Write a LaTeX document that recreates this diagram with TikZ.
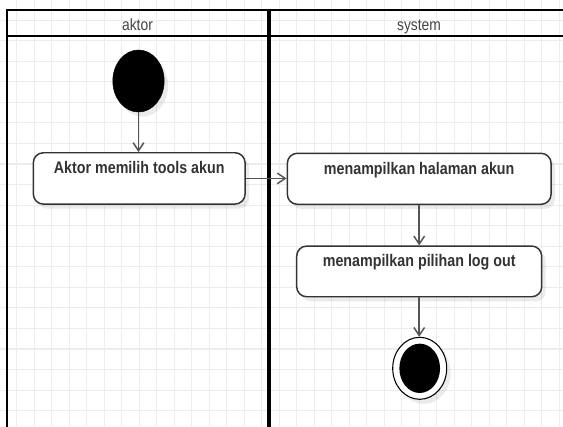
\documentclass[tikz,border=0pt]{standalone}
\usepackage{fontspec}
\setmainfont[FakeStretch=0.85]{Liberation Sans}
\usetikzlibrary{shapes.geometric,arrows.meta,shadows,calc}
\definecolor{gridc}{HTML}{EDEDED}
\definecolor{edgec}{HTML}{333333}
\definecolor{flowc}{HTML}{555555}
\definecolor{headc}{HTML}{444444}
\tikzset{
  shade/.style={drop shadow={shadow xshift=3pt,shadow yshift=-3.5pt,fill=black,opacity=0.08}},
  action/.style={draw=edgec,line width=1.1pt,fill=white,rounded corners=7.5pt,inner sep=0pt,shade},
  lbl/.style={font=\fontsize{12.6pt}{15pt}\selectfont\bfseries,text=edgec,inner sep=0pt,anchor=base},
  headtxt/.style={font=\fontsize{12.2pt}{15pt}\selectfont,text=headc,inner sep=0pt,anchor=base},
  startdot/.style={ellipse,fill=black,draw=black,inner sep=0pt,minimum width=38.5pt,minimum height=46.5pt,shade},
  endring/.style={ellipse,draw=black,line width=0.8pt,fill=white,inner sep=0pt,minimum width=40.5pt,minimum height=46.5pt,shade},
  enddot/.style={ellipse,fill=black,inner sep=0pt,minimum width=30.5pt,minimum height=37pt},
  flow/.style={draw=flowc,line width=1.1pt,-{Straight Barb[length=6pt,width=8pt,line width=1.1pt]}},
  lane/.style={draw=black,line width=1.5pt}
}
\begin{document}
\begin{tikzpicture}[x=0.75pt,y=-0.75pt]
\useasboundingbox (0,0) rectangle (563,426);
\clip (0,0) rectangle (563,426);
\fill[white] (0,0) rectangle (563,426);
% background grid
\foreach \k in {0,...,33} \draw[gridc,line width=0.8pt] ({-0.8+17.5*\k},0) -- ({-0.8+17.5*\k},426);
\foreach \k in {0,...,21} \draw[gridc,line width=0.8pt] (0,{-0.5+20.56*\k}) -- (563,{-0.5+20.56*\k});
% swimlanes
\draw[lane] (7.3,9.8) rectangle (590,450);
\draw[lane] (7.3,36) -- (590,36);
\draw[draw=black,line width=2.4pt] (269,9.8) -- (269,450);
\node[headtxt] (h1) at (137.5,30.7) {aktor};
\node[headtxt] (h2) at (419,30.7) {system};
% activity nodes
\node[startdot] (init) at (138.5,81) {};
\node[action,minimum width=158.8pt,minimum height=38.5pt] (a1) at (139.2,178.4) {};
\node[lbl] (t1) at ($(a1.north)+(0,21.4)$) {Aktor memilih tools akun};
\node[action,minimum width=197.8pt,minimum height=38.25pt] (a2) at (419.2,178.8) {};
\node[lbl] (t2) at ($(a2.north)+(0,21.6)$) {menampilkan halaman akun};
\node[action,minimum width=183.75pt,minimum height=38pt] (a3) at (419.2,271.4) {};
\node[lbl] (t3) at ($(a3.north)+(0,21.6)$) {menampilkan pilihan log out};
\node[endring] (fin) at (419.7,368.3) {};
\node[enddot] (findot) at (fin.center) {};
% control flow
\draw[flow] (init.south) -- (init.south |- a1.north);
\draw[flow] (a1.east) -- (a1.east -| a2.west);
\draw[flow] (a2.south) -- (a2.south |- a3.north);
\draw[flow] (a3.south) -- (a3.south |- fin.north);
\end{tikzpicture}
\end{document}
